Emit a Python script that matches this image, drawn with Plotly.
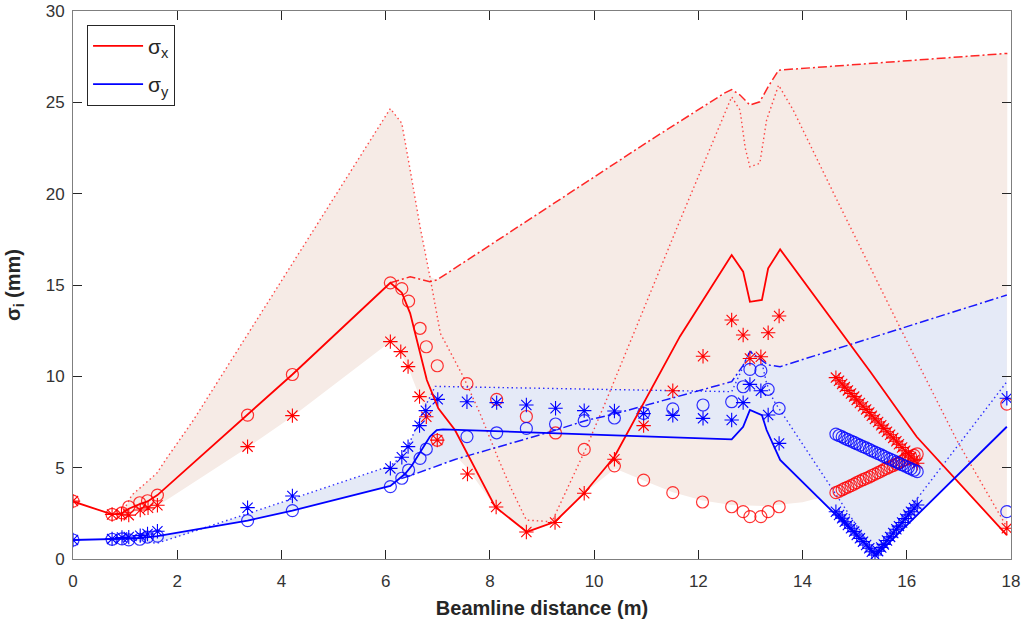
import plotly.graph_objects as go

# ---------------- data ----------------
# main simulated envelopes
rsol_x = [0, 0.75, 0.94, 1.07, 1.28, 1.43, 1.62, 3.35, 4.21, 6.09, 6.31, 6.47, 6.79, 7.01, 7.33, 8.1, 8.71, 9.25, 9.81, 10.39, 11.65, 12.64, 12.86, 12.99, 13.22, 13.34, 13.57, 15.3, 16.19, 17.92]
rsol_y = [3.15, 2.44, 2.5, 2.75, 3.0, 3.15, 3.5, 7.88, 10.1, 15.12, 14.58, 13.45, 9.8, 8.25, 7.06, 2.86, 1.48, 2.04, 3.6, 5.6, 12.2, 16.64, 15.73, 14.08, 14.18, 15.91, 16.95, 10.25, 6.69, 1.31]

bsol_x = [0, 0.75, 0.94, 1.07, 1.28, 1.43, 1.62, 3.35, 4.21, 6.09, 6.37, 6.5, 6.69, 6.85, 6.98, 7.1, 10.12, 12.64, 12.86, 12.99, 13.22, 13.31, 13.57, 15.42, 17.92]
bsol_y = [1.04, 1.08, 1.12, 1.12, 1.15, 1.2, 1.25, 2.1, 2.65, 4.0, 4.65, 5.1, 5.97, 6.7, 7.06, 7.1, 6.8, 6.55, 7.24, 8.16, 7.88, 7.06, 5.42, 0.22, 7.24]

rdot_x = [0.75, 0.95, 1.13, 1.61, 1.77, 2.31, 6.09, 6.31, 6.47, 6.66, 6.85, 7.05, 7.49, 7.81, 8.13, 8.4, 8.7, 9.19, 9.83, 10.21, 11.65, 12.64, 12.8, 12.9, 12.99, 13.18, 13.31, 13.54, 13.82, 14.66, 15.9, 16.96, 17.92]
rdot_y = [2.44, 2.55, 3.5, 4.7, 5.4, 7.6, 24.66, 23.85, 21.3, 18.2, 15.45, 12.35, 9.98, 7.97, 5.7, 3.9, 2.13, 2.04, 5.97, 8.52, 18.55, 25.3, 24.58, 22.5, 21.47, 21.66, 24.03, 25.94, 24.58, 19.65, 12.5, 6.5, 1.75]

rdd_x = [6.09, 6.47, 6.85, 6.98, 11.08, 12.5, 12.64, 12.8, 12.99, 13.18, 13.35, 13.54, 17.93]
rdd_y = [15.12, 15.45, 15.18, 15.27, 22.93, 25.5, 25.7, 25.4, 24.85, 25.03, 25.9, 26.76, 27.68]

bdot_x = [0.94, 1.3, 1.61, 3.35, 4.21, 5.42, 6.09, 6.3, 6.45, 6.6, 6.75, 6.95, 10.12, 12.64, 12.86, 12.99, 13.2, 13.31, 13.44, 15.39, 17.92]
bdot_y = [1.12, 1.0, 0.86, 2.48, 3.29, 4.45, 5.1, 5.6, 6.3, 7.3, 8.3, 9.45, 9.3, 9.16, 10.53, 11.4, 11.0, 9.62, 8.7, 0.3, 9.7]

bdd_x = [6.3, 6.6, 7.33, 9.06, 9.83, 10.4, 12.64, 12.86, 12.99, 13.19, 13.34, 13.57, 17.92]
bdd_y = [4.4, 4.69, 5.45, 6.88, 7.57, 7.95, 9.71, 10.6, 11.35, 10.93, 10.62, 10.53, 14.45]

# shaded bands (edges)
rband_up_x = [0.95, 1.13, 1.61, 1.77, 2.31, 6.09, 6.31, 6.47, 6.66, 6.85, 6.98, 11.08, 12.64, 12.99, 13.18, 13.54, 17.93]
rband_up_y = [2.5, 3.5, 4.7, 5.4, 7.6, 24.66, 23.85, 21.3, 18.2, 15.45, 15.27, 22.93, 25.7, 24.85, 25.03, 26.76, 27.68]
rband_lo_x = [0.95, 1.62, 3.35, 4.21, 6.09, 6.29, 6.43, 6.65, 6.78, 6.99, 7.33, 7.57, 8.1, 8.71, 9.25, 9.81, 10.4, 10.95, 11.51, 12.08, 12.64, 13.3, 14.0, 14.66, 15.4, 16.2, 16.9, 17.92]
rband_lo_y = [2.4, 2.9, 6.1, 7.8, 11.9, 11.3, 10.5, 8.9, 7.8, 6.6, 5.7, 4.95, 2.86, 1.45, 2.0, 3.6, 4.95, 4.3, 3.65, 3.2, 2.96, 2.9, 3.1, 3.6, 4.0, 4.8, 4.45, 1.31]

bband_up_x = [0.95, 1.62, 2.6, 3.35, 4.21, 5.42, 6.09, 6.3, 6.45, 6.6, 6.75, 6.95, 10.12, 12.2, 12.64, 12.86, 12.99, 13.19, 13.34, 13.57, 17.92]
bband_up_y = [1.12, 1.25, 1.75, 2.48, 3.29, 4.45, 5.1, 5.6, 6.3, 7.3, 8.3, 9.42, 9.3, 9.2, 9.71, 10.6, 11.4, 11.0, 10.62, 10.53, 14.45]
bband_lo_x = [0.95, 1.61, 2.6, 3.35, 4.21, 6.09, 6.3, 6.6, 7.33, 9.06, 9.3, 10.12, 12.64, 12.86, 12.99, 13.22, 13.31, 13.57, 15.42, 17.92]
bband_lo_y = [1.1, 0.86, 1.75, 2.1, 2.65, 4.0, 4.4, 4.69, 5.45, 6.88, 6.85, 6.79, 6.55, 7.24, 8.16, 7.88, 7.06, 5.42, 0.22, 7.24]

# measured points
row_x = [14.64, 14.70, 14.76, 14.81, 14.87, 14.93, 14.99, 15.04, 15.10, 15.16, 15.22, 15.28, 15.33, 15.39,
         15.45, 15.51, 15.56, 15.62, 15.68, 15.74, 15.80, 15.85, 15.91, 15.97, 16.03, 16.08, 16.14, 16.20]

rc_x = [0, 0.75, 0.94, 1.07, 1.28, 1.43, 1.62, 3.35, 4.21, 6.09, 6.31, 6.44, 6.66, 6.78, 6.99, 6.99, 7.56, 8.13, 8.7, 9.26, 9.81, 10.39, 10.95, 11.51, 12.08, 12.64, 12.86, 12.99, 13.2, 13.34, 13.55] + row_x + [17.92]
rc_y = [3.17, 2.44, 2.53, 2.86, 3.08, 3.19, 3.5, 7.88, 10.1, 15.12, 14.8, 14.12, 12.63, 11.62, 10.58, 6.5, 9.6, 8.74, 7.8, 6.9, 6.0, 5.1, 4.32, 3.63, 3.12, 2.86, 2.59, 2.32, 2.32, 2.59, 2.86] + \
       [3.63, 3.71, 3.79, 3.87, 3.94, 4.02, 4.10, 4.18, 4.26, 4.34, 4.42, 4.49, 4.57, 4.65,
        4.73, 4.81, 4.89, 4.97, 5.04, 5.12, 5.20, 5.28, 5.36, 5.44, 5.52, 5.59, 5.67, 5.75] + [8.48]

rs_x = [0, 0.75, 0.93, 1.07, 1.29, 1.44, 1.62, 3.35, 4.21, 6.09, 6.29, 6.43, 6.65, 6.78, 6.99, 7.57, 8.12, 8.7, 9.25, 9.81, 10.39, 10.95, 11.51, 12.09, 12.64, 12.86, 12.99, 13.2, 13.34, 13.55] + row_x + [17.92]
rs_y = [3.17, 2.44, 2.45, 2.4, 2.68, 2.8, 2.94, 6.15, 7.85, 11.9, 11.35, 10.53, 8.89, 7.79, 6.51, 4.65, 2.85, 1.48, 2.0, 3.6, 5.46, 7.3, 9.21, 11.1, 13.08, 12.26, 10.98, 11.07, 12.39, 13.3] + \
       [9.93, 9.76, 9.58, 9.41, 9.23, 9.06, 8.89, 8.71, 8.54, 8.36, 8.19, 8.02, 7.84, 7.67,
        7.50, 7.32, 7.15, 6.97, 6.80, 6.63, 6.45, 6.28, 6.10, 5.93, 5.76, 5.58, 5.41, 5.24] + [1.68]

bc_x = [0, 0.75, 0.94, 1.07, 1.28, 1.43, 1.62, 3.35, 4.21, 6.09, 6.31, 6.44, 6.66, 6.78, 7.56, 8.13, 8.7, 9.26, 9.81, 10.39, 10.95, 11.51, 12.09, 12.64, 12.86, 12.99, 13.2, 13.34, 13.55] + row_x + [17.92]
bc_y = [1.04, 1.08, 1.1, 1.05, 1.08, 1.2, 1.25, 2.1, 2.65, 3.96, 4.42, 4.87, 5.51, 6.02, 6.7, 6.91, 7.15, 7.39, 7.57, 7.72, 7.97, 8.22, 8.43, 8.61, 9.43, 10.38, 10.31, 9.29, 8.25] + \
       [6.84, 6.76, 6.69, 6.61, 6.53, 6.46, 6.38, 6.31, 6.23, 6.15, 6.08, 6.00, 5.92, 5.85,
        5.77, 5.70, 5.62, 5.54, 5.47, 5.39, 5.31, 5.24, 5.16, 5.09, 5.01, 4.93, 4.86, 4.78] + [2.59]

bs_x = [0, 0.75, 0.94, 1.07, 1.29, 1.43, 1.62, 3.35, 4.21, 6.09, 6.31, 6.43, 6.65, 6.77, 7.0, 7.56, 8.13, 8.7, 9.26, 9.81, 10.39, 10.95, 11.51, 12.09, 12.64, 12.86, 12.99, 13.2, 13.34, 13.55] + row_x + [17.92]
bs_y = [1.04, 1.1, 1.18, 1.2, 1.28, 1.37, 1.52, 2.81, 3.45, 4.96, 5.57, 6.15, 7.3, 8.12, 8.74, 8.61, 8.56, 8.43, 8.25, 8.12, 8.1, 7.96, 7.86, 7.7, 7.61, 8.56, 9.56, 9.21, 7.88, 6.33] + \
       [2.59, 2.41, 2.23, 2.04, 1.86, 1.68, 1.50, 1.31, 1.13, 0.95, 0.77, 0.59, 0.40, 0.22,
        0.43, 0.63, 0.80, 1.01, 1.21, 1.42, 1.63, 1.80, 2.00, 2.21, 2.42, 2.59, 2.79, 2.96] + [8.8]

x_ticks = [0, 2, 4, 6, 8, 10, 12, 14, 16, 18]
y_ticks = [0, 5, 10, 15, 20, 25, 30]

# ---------------- styles ----------------
RED = "#ff0000"
BLUE = "#0000ff"
PINK_FILL = "rgb(246,235,230)"
BLUE_FILL = "rgb(229,234,247)"
DOT = "1.5px,3px"
DASHDOT = "9px,3px,2px,3px"

fig = go.Figure()

def band(upx, upy, lox, loy, color):
    fig.add_trace(go.Scatter(x=list(upx) + list(lox)[::-1], y=list(upy) + list(loy)[::-1],
                             mode="lines", fill="toself", fillcolor=color,
                             line=dict(width=0, color=color), showlegend=False, hoverinfo="skip"))

band(rband_up_x, rband_up_y, rband_lo_x, rband_lo_y, PINK_FILL)
band(bband_up_x, bband_up_y, bband_lo_x, bband_lo_y, BLUE_FILL)

# dotted and dash-dot cases
fig.add_trace(go.Scatter(x=rdot_x, y=rdot_y, mode="lines", showlegend=False,
                         line=dict(color="rgba(255,0,0,0.7)", width=1.4, dash=DOT)))
fig.add_trace(go.Scatter(x=rdd_x, y=rdd_y, mode="lines", showlegend=False,
                         line=dict(color="rgba(255,0,0,0.85)", width=1.5, dash=DASHDOT)))
fig.add_trace(go.Scatter(x=bdot_x, y=bdot_y, mode="lines", showlegend=False,
                         line=dict(color="rgba(0,0,255,0.8)", width=1.4, dash=DOT)))
fig.add_trace(go.Scatter(x=bdd_x, y=bdd_y, mode="lines", showlegend=False,
                         line=dict(color="rgba(0,0,255,0.9)", width=1.5, dash=DASHDOT)))

# markers
fig.add_trace(go.Scatter(x=rc_x, y=rc_y, mode="markers", showlegend=False,
                         marker=dict(symbol="circle-open", size=12, color="rgba(255,0,0,0.8)", line=dict(width=1.2))))
fig.add_trace(go.Scatter(x=rs_x, y=rs_y, mode="markers", showlegend=False,
                         marker=dict(symbol="asterisk-open", size=12, color=RED, line=dict(width=1.1))))
fig.add_trace(go.Scatter(x=bc_x, y=bc_y, mode="markers", showlegend=False,
                         marker=dict(symbol="circle-open", size=12, color="rgba(0,0,255,0.8)", line=dict(width=1.2))))
fig.add_trace(go.Scatter(x=bs_x, y=bs_y, mode="markers", showlegend=False,
                         marker=dict(symbol="asterisk-open", size=12, color=BLUE, line=dict(width=1.1))))

# main lines
fig.add_trace(go.Scatter(x=rsol_x, y=rsol_y, mode="lines", name="σ<sub>x</sub>", legendgroup="a",
                         line=dict(color=RED, width=1.8)))
fig.add_trace(go.Scatter(x=bsol_x, y=bsol_y, mode="lines", name="σ<sub>y</sub>", legendgroup="b",
                         line=dict(color=BLUE, width=1.8)))

axis_common = dict(showline=True, linecolor="#7f7f7f", linewidth=1, mirror="ticks",
                   ticks="inside", ticklen=9, tickcolor="#262626", tickwidth=1,
                   showgrid=False, zeroline=False, automargin=False, ticklabeloverflow="allow",
                   tickfont=dict(family="Liberation Sans, Arial, sans-serif", size=17, color="#333333"))

fig.update_layout(
    width=1026, height=623,
    margin=dict(l=73, r=15, t=11, b=64),
    paper_bgcolor="white", plot_bgcolor="white",
    font=dict(family="Liberation Sans, Arial, sans-serif", color="#262626"),
    xaxis=dict(range=[0, 18], tickvals=x_ticks, ticklabelstandoff=7,
               title=dict(text="<b>Beamline distance (m)</b>", font=dict(size=20), standoff=10),
               **axis_common),
    yaxis=dict(range=[0, 30], tickvals=y_ticks, ticklabelstandoff=4,
               title=dict(text="<b>σ<sub>i</sub> (mm)</b>", font=dict(size=20), standoff=19),
               **axis_common),
    legend=dict(x=0.015, y=0.975, xanchor="left", yanchor="top",
                bgcolor="white", bordercolor="#262626", borderwidth=1,
                font=dict(size=21, color="#262626"), itemwidth=50, tracegroupgap=8),
)

# remove the default page margin so the figure fills the window exactly
fig.write_html("out.html", config={"displayModeBar": False},
               post_script="document.body.style.margin='0';")
